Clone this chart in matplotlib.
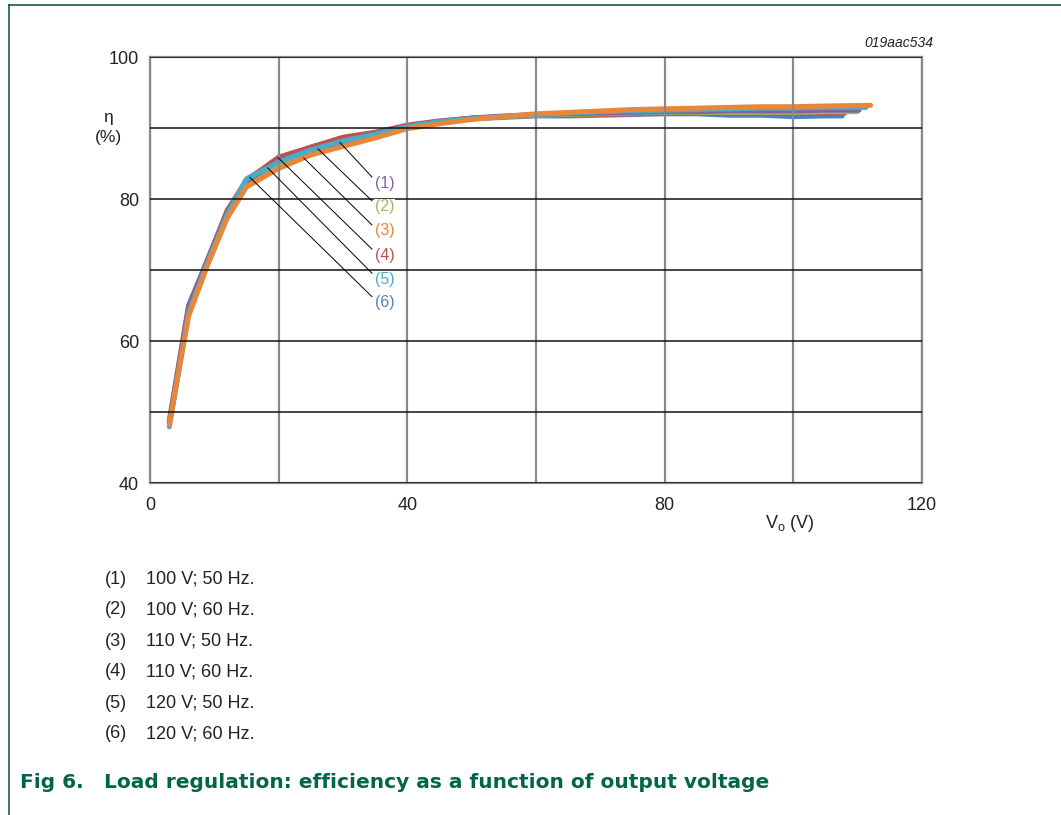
import matplotlib
matplotlib.use('Agg')
import matplotlib.pyplot as plt
from matplotlib.lines import Line2D
import numpy as np

plt.rcParams['font.family'] = ['Liberation Sans', 'DejaVu Sans']

# ---- Measured efficiency vs output voltage ----
vo_common = [3, 6, 9, 12, 15, 20, 25, 30, 35, 40, 45, 50, 55, 60, 65, 70,
             75, 80, 85, 90, 95, 100, 105]

eta_100v50 = [48.5, 64.8, 71.5, 78.0, 82.5, 85.4, 86.9, 88.1, 89.2, 90.2, 90.9, 91.4,
              91.7, 91.9, 92.0, 92.1, 92.2, 92.3, 92.3, 92.4, 92.4, 92.4, 92.5]
eta_100v60 = [48.7, 64.0, 71.0, 77.5, 82.3, 85.0, 86.8, 88.0, 89.0, 90.0, 90.8, 91.3,
              91.6, 91.8, 91.9, 92.0, 92.1, 92.2, 92.2, 92.2, 92.2, 92.2, 92.3]
eta_110v50 = [48.2, 63.5, 70.8, 77.3, 81.7, 84.3, 86.2, 87.4, 88.6, 89.9, 90.6, 91.2,
              91.6, 92.0, 92.2, 92.4, 92.6, 92.7, 92.8, 92.9, 93.0, 93.0, 93.1]
eta_110v60 = [48.8, 65.0, 71.6, 78.4, 82.6, 85.9, 87.3, 88.7, 89.4, 90.4, 91.0, 91.4,
              91.6, 91.8, 91.8, 91.9, 92.0, 92.1, 92.1, 92.1, 92.1, 92.1, 92.1]
eta_120v50 = [47.9, 64.0, 71.2, 77.8, 82.8, 85.2, 86.9, 88.2, 89.1, 90.2, 90.9, 91.3,
              91.6, 91.9, 92.1, 92.3, 92.4, 92.5, 92.6, 92.7, 92.8, 92.8, 92.9]
eta_120v60 = [48.3, 64.3, 71.3, 78.1, 82.8, 85.5, 87.3, 88.6, 89.3, 90.3, 90.9, 91.3,
              91.5, 91.7, 91.7, 91.8, 91.9, 92.0, 92.0, 91.8, 91.8, 91.6, 91.7]

# last point of each sweep (Vo, eta)
end_points = [(110.2, 92.5), (109.9, 92.3), (112.0, 93.2),
              (108.0, 92.1), (111.3, 92.9), (107.6, 91.7)]

labels = ['(1)', '(2)', '(3)', '(4)', '(5)', '(6)']
conditions = ['100 V; 50 Hz.', '100 V; 60 Hz.', '110 V; 50 Hz.',
              '110 V; 60 Hz.', '120 V; 50 Hz.', '120 V; 60 Hz.']
colors = ['#8064A2', '#9BBB59', '#E8873A', '#C0504D', '#4BACC6', '#4F81BD']
series = [eta_100v50, eta_100v60, eta_110v50, eta_110v60, eta_120v50, eta_120v60]

# where each leader line touches its curve, and where the label sits
leader_x = [29.5, 26.1, 23.9, 19.9, 18.3, 15.5]
label_y = [82.25, 78.9, 75.5, 72.1, 68.7, 65.4]

TXT = '#222222'
FS = 13

fig = plt.figure(figsize=(10.61, 8.15), dpi=100)
ax = fig.add_axes([150 / 1061, 1 - 483 / 815, 772 / 1061, 426 / 815])

curves = []
for ys, (xe, ye) in zip(series, end_points):
    curves.append((np.array(vo_common + [xe]), np.array(ys + [ye])))

draw_order = [5, 3, 1, 0, 4, 2]
for i in draw_order:
    x, y = curves[i]
    ax.plot(x, y, color=colors[i], lw=3.6, solid_capstyle='round',
            solid_joinstyle='round', zorder=2)

ax.set_xlim(0, 120)
ax.set_ylim(40, 100)
ax.set_xticks([0, 40, 80, 120])
ax.set_xticks([20, 60, 100], minor=True)
ax.set_yticks([40, 60, 80, 100])
ax.set_yticks([50, 70, 90], minor=True)
ax.tick_params(which='both', length=0, labelsize=FS, colors=TXT)
ax.tick_params(axis='x', pad=10)
ax.tick_params(axis='y', pad=8)

ax.xaxis.grid(True, which='both', color='#8a8a8a', lw=1.6)
ax.yaxis.grid(True, which='both', color='#111111', lw=1.1)
ax.set_axisbelow(False)
for s in ax.spines.values():
    s.set_color('#8a8a8a')
    s.set_linewidth(1.6)

# leader lines from the curves to the numbered labels
for i in range(6):
    x, y = curves[i]
    x0 = leader_x[i]
    y0 = np.interp(x0, x, y)
    ax.plot([x0, 34.5], [y0, label_y[i] + 0.85], color='black', lw=0.7, zorder=3)
    ax.text(35.0, label_y[i], labels[i], color=colors[i], fontsize=11.5,
            ha='left', va='center', zorder=4,
            bbox=dict(facecolor='white', edgecolor='none', pad=0.6))

ax.text(-6.6, 91.5, 'η', ha='center', va='center', fontsize=12.5, color=TXT)
ax.text(-6.5, 88.6, '(%)', ha='center', va='center', fontsize=12.5, color=TXT)
fig.text(933 / 1061, 1 - 43 / 815, '019aac534', ha='right', va='center',
         fontsize=10, style='italic', color=TXT)
fig.text(790 / 1061, 1 - 523 / 815, r'V$_\mathregular{o}$ (V)', ha='center',
         va='center', fontsize=FS, color=TXT)

# condition list below the chart
for i in range(6):
    yy = 1 - (579 + 31 * i) / 815
    fig.text(105 / 1061, yy, labels[i], ha='left', va='center', fontsize=FS,
             color=TXT)
    fig.text(146 / 1061, yy, conditions[i], ha='left', va='center', fontsize=FS,
             color=TXT)

green = '#00654A'
fig.text(20 / 1061, 1 - 783 / 815, 'Fig 6.', ha='left', va='center',
         fontsize=14.5, fontweight='bold', color=green, family='DejaVu Sans')
fig.text(104 / 1061, 1 - 783 / 815,
         'Load regulation: efficiency as a function of output voltage',
         ha='left', va='center', fontsize=14.5, fontweight='bold', color=green,
         family='DejaVu Sans')

# page frame
fig.add_artist(Line2D([8.5 / 1061, 8.5 / 1061], [0, 1 - 4.5 / 815],
                      color='#004F3C', lw=1.1))
fig.add_artist(Line2D([8.5 / 1061, 1], [1 - 4.5 / 815, 1 - 4.5 / 815],
                      color='#004F3C', lw=1.1))

fig.savefig('out.png', dpi=100)
plt.close(fig)
